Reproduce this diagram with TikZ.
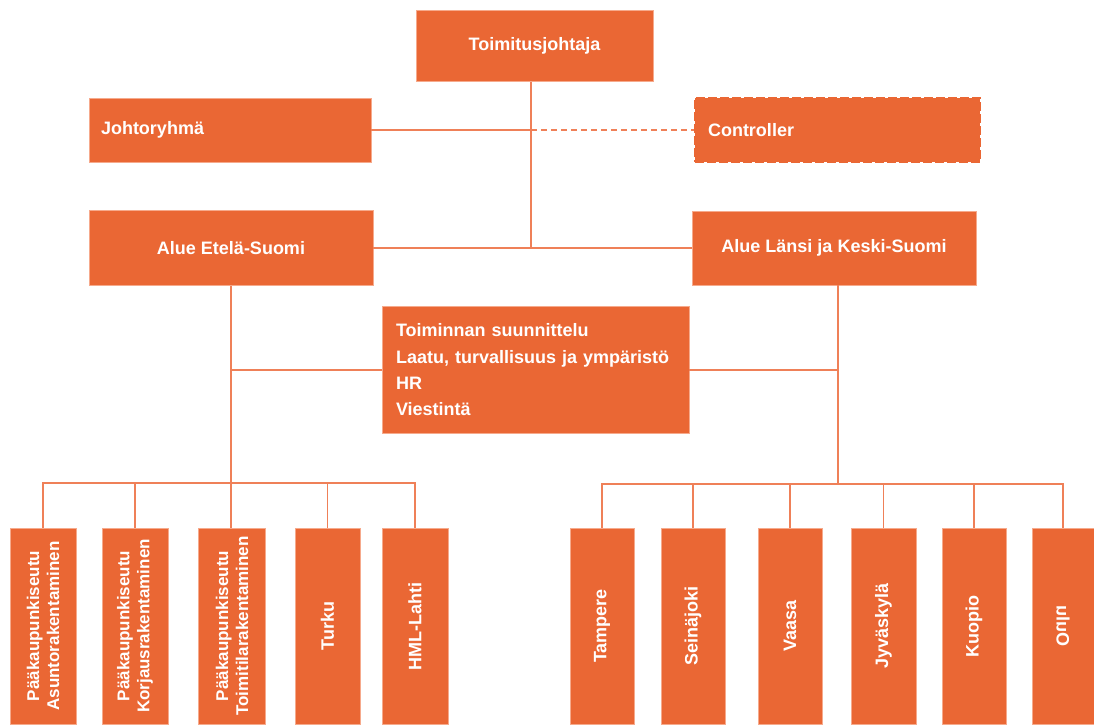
\documentclass[tikz,border=0pt]{standalone}
\usepackage{fontspec}
\setmainfont{Liberation Sans}
\definecolor{brand}{RGB}{234,103,52}
\definecolor{boxedge}{RGB}{246,170,140}
\definecolor{linkc}{RGB}{239,128,88}

\begin{document}
\begin{tikzpicture}[x=1pt,y=-1pt,
  box/.style={fill=brand, draw=boxedge, line width=0.6pt, text=white,
    font=\fontsize{18}{22}\selectfont\bfseries, inner sep=0pt},
  unit/.style={box, font=\fontsize{17}{20}\selectfont\bfseries,
    align=center, minimum width=196pt},
  single/.style={unit, font=\fontsize{18}{22}\selectfont\bfseries},
  conn/.style={draw=linkc, line width=1.4pt},
  dashconn/.style={conn, dash pattern=on 6pt off 4pt}
]
\useasboundingbox (0,0) rectangle (1094,724);

% top levels
\node[box, minimum width=237pt, minimum height=71pt] (ceo) at (534.5,46) {Toimitusjohtaja};
\node[box, minimum width=282pt, minimum height=64pt, text width=258pt, align=left] (jr) at (230,130) {Johtoryhmä};
\node[box, draw=brand, line width=2.5pt, dash pattern=on 9pt off 3pt,
      minimum width=285pt, minimum height=64pt, text width=259pt, align=left] (ctrl) at (837.5,130) {Controller};
\node[box, minimum width=284pt, minimum height=75pt] (etela) at (231,248) {Alue Etelä-Suomi};
\node[box, minimum width=284pt, minimum height=74pt] (lansi) at (834,248) {Alue Länsi ja Keski-Suomi};
\node[box, minimum width=307pt, minimum height=127pt, text width=279pt, align=left,
      font=\fontsize{18}{26.3}\selectfont\bfseries] (mid) at (535.5,370)
  {Toiminnan suunnittelu\\Laatu, turvallisuus ja ympäristö\\HR\\Viestintä};

% southern units
\node[unit, rotate=90, minimum height=66pt] (b1) at (43,626) {Pääkaupunkiseutu\\Asuntorakentaminen};
\node[unit, rotate=90, minimum height=66pt] (b2) at (135,626) {Pääkaupunkiseutu\\Korjausrakentaminen};
\node[unit, rotate=90, minimum height=67pt] (b3) at (232,626) {Pääkaupunkiseutu\\Toimitilarakentaminen};
\node[single, rotate=90, minimum height=65pt] (b4) at (327.5,626) {Turku};
\node[single, rotate=90, minimum height=66pt] (b5) at (415,626) {HML-Lahti};

% western and central units
\node[single, rotate=90, minimum height=64pt] (r1) at (602,626) {Tampere};
\node[single, rotate=90, minimum height=64pt] (r2) at (693,626) {Seinäjoki};
\node[single, rotate=90, minimum height=64pt] (r3) at (790,626) {Vaasa};
\node[single, rotate=90, minimum height=65pt] (r4) at (883.5,626) {Jyväskylä};
\node[single, rotate=90, minimum height=64pt] (r5) at (974,626) {Kuopio};
% mirrored label: its east anchor lies at the top
\node[single, rotate=-90, xscale=-1, minimum height=62pt] (r6) at (1063,626) {Oulu};

% connectors
\coordinate (tv) at ([xshift=-3.5pt]ceo.south);
\coordinate (lv) at ([xshift=4pt]lansi.south);
\coordinate (lbar) at (0,483);
\coordinate (rbar) at (0,484);

\draw[conn] (tv) -- (tv |- etela.east);
\draw[conn] (jr.east) -- (tv |- jr.east);
\draw[dashconn] (tv |- jr.east) -- (ctrl.west);
\draw[conn] (etela.east) -- (lansi.west);

\draw[conn] (etela.south) -- (etela.south |- b3.east);
\draw[conn] (lv) -- (lv |- rbar);
\draw[conn] (etela.south |- mid.west) -- (mid.west);
\draw[conn] (mid.east) -- (lv |- mid.east);

\draw[conn] (b1.east) -- (b1.east |- lbar) -- (b5.east |- lbar) -- (b5.east);
\draw[conn] (b2.east) -- (b2.east |- lbar);
\draw[conn] (b4.east) -- (b4.east |- lbar);

\draw[conn] (r1.east) -- (r1.east |- rbar) -- (r6.east |- rbar) -- (r6.east);
\draw[conn] (r2.east) -- (r2.east |- rbar);
\draw[conn] (r3.east) -- (r3.east |- rbar);
\draw[conn] (r4.east) -- (r4.east |- rbar);
\draw[conn] (r5.east) -- (r5.east |- rbar);
\end{tikzpicture}
\end{document}
